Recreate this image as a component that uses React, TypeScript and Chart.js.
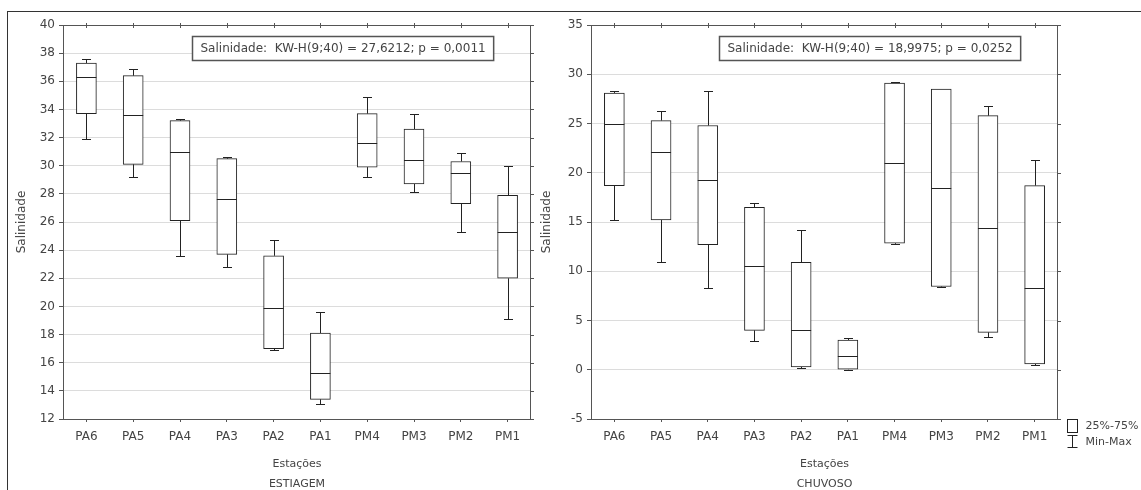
import { useEffect, useRef } from 'react';
import { Chart, registerables } from 'chart.js';

Chart.register(...registerables);

const stations = ['PA6', 'PA5', 'PA4', 'PA3', 'PA2', 'PA1', 'PM4', 'PM3', 'PM2', 'PM1'];

// ESTIAGEM (dry season)
const dryMin = [31.9, 29.2, 23.6, 22.8, 16.9, 13.1, 29.2, 28.1, 25.3, 19.1];
const dryQ1 = [33.7, 30.1, 26.1, 23.7, 17.0, 13.4, 29.9, 28.7, 27.3, 22.0];
const dryMedian = [36.3, 33.6, 31.0, 27.6, 19.9, 15.3, 31.6, 30.4, 29.5, 25.3];
const dryQ3 = [37.3, 36.4, 33.2, 30.5, 23.6, 18.1, 33.7, 32.6, 30.3, 27.9];
const dryMax = [37.6, 36.9, 33.3, 30.6, 24.7, 19.6, 34.9, 33.7, 30.9, 30.0];

// CHUVOSO (rainy season)
const wetMin = [15.2, 10.9, 8.3, 2.9, 0.2, 0.0, 12.8, 8.4, 3.3, 0.5];
const wetQ1 = [18.7, 15.2, 12.7, 4.0, 0.3, 0.0, 12.85, 8.45, 3.8, 0.6];
const wetMedian = [25.0, 22.1, 19.3, 10.5, 4.0, 1.4, 21.0, 18.5, 14.4, 8.3];
const wetQ3 = [28.1, 25.3, 24.8, 16.5, 10.9, 3.0, 29.1, 28.5, 25.8, 18.7];
const wetMax = [28.3, 26.3, 28.3, 16.9, 14.2, 3.25, 29.2, 28.55, 26.8, 21.3];

const dryAxis = [12, 40, 2];
const wetAxis = [-5, 35, 5];

const dryStat = 'Salinidade:  KW-H(9;40) = 27,6212; p = 0,0011';
const wetStat = 'Salinidade:  KW-H(9;40) = 18,9975; p = 0,0252';

const yTitle = 'Salinidade';
const xTitle = 'Estações';
const legendBox = '25%-75%';
const legendWhisker = 'Min-Max';

const FONT = "'DejaVu Sans', 'Liberation Sans', Arial, sans-serif";
const TEXT = '#444';
const LINE = '#222';

type Params = {
  mins: number[];
  q1s: number[];
  meds: number[];
  q3s: number[];
  maxs: number[];
  axis: number[];
  stat: string;
  season: string;
  padLeft: number;
  padRight: number;
  yWidth: number;
  legend: boolean;
};

function makeConfig(p: Params): any {
  const plugin = {
    id: 'boxExtras',
    beforeDatasetsDraw(chart: any) {
      const { ctx, scales } = chart;
      const x = scales.x;
      const y = scales.y;
      ctx.save();
      ctx.strokeStyle = LINE;
      ctx.lineWidth = 1;
      ctx.beginPath();
      for (let i = 0; i < stations.length; i++) {
        const cx = Math.round(x.getPixelForValue(i)) + 0.5;
        const yMax = Math.round(y.getPixelForValue(p.maxs[i])) + 0.5;
        const yMin = Math.round(y.getPixelForValue(p.mins[i])) + 0.5;
        const yQ1 = y.getPixelForValue(p.q1s[i]);
        const yQ3 = y.getPixelForValue(p.q3s[i]);
        ctx.moveTo(cx, yMax);
        ctx.lineTo(cx, yQ3);
        ctx.moveTo(cx, yQ1);
        ctx.lineTo(cx, yMin);
        ctx.moveTo(cx - 4.5, yMax);
        ctx.lineTo(cx + 4.5, yMax);
        ctx.moveTo(cx - 4.5, yMin);
        ctx.lineTo(cx + 4.5, yMin);
      }
      ctx.stroke();
      ctx.restore();
    },
    afterDatasetsDraw(chart: any) {
      const { ctx, chartArea: a, scales } = chart;
      const x = scales.x;
      const y = scales.y;
      ctx.save();
      ctx.strokeStyle = LINE;
      ctx.lineWidth = 1;
      // medians
      ctx.beginPath();
      for (let i = 0; i < stations.length; i++) {
        const cx = x.getPixelForValue(i);
        const ym = Math.round(y.getPixelForValue(p.meds[i])) + 0.5;
        ctx.moveTo(cx - 10, ym);
        ctx.lineTo(cx + 10, ym);
      }
      ctx.stroke();
      // frame
      ctx.strokeStyle = '#555';
      ctx.beginPath();
      ctx.moveTo(a.left, Math.round(a.top) + 0.5);
      ctx.lineTo(a.right, Math.round(a.top) + 0.5);
      ctx.moveTo(Math.round(a.right) - 0.5, a.top);
      ctx.lineTo(Math.round(a.right) - 0.5, a.bottom);
      // top ticks
      for (let i = 0; i < stations.length; i++) {
        const cx = Math.round(x.getPixelForValue(i)) + 0.5;
        ctx.moveTo(cx, a.top - 2);
        ctx.lineTo(cx, a.top + 3);
      }
      // right ticks
      y.ticks.forEach((t: any) => {
        const py = Math.round(y.getPixelForValue(t.value)) + 0.5;
        ctx.moveTo(a.right, py);
        ctx.lineTo(a.right + 3, py);
      });
      ctx.stroke();
      // stat box
      ctx.font = `12px ${FONT}`;
      const w = ctx.measureText(p.stat).width;
      const bw = w + 16;
      const bx = Math.round(a.right - 38 - bw) + 0.5;
      const by = 36.5;
      ctx.fillStyle = '#fff';
      ctx.fillRect(bx, by, bw, 24);
      ctx.strokeStyle = '#555';
      ctx.lineWidth = 1.5;
      ctx.strokeRect(bx, by, bw, 24);
      ctx.fillStyle = TEXT;
      ctx.textBaseline = 'middle';
      ctx.textAlign = 'left';
      ctx.fillText(p.stat, bx + 8, by + 12);
      // legend
      if (p.legend) {
        const lx = a.right + 9.5;
        ctx.lineWidth = 1;
        ctx.strokeStyle = LINE;
        ctx.strokeRect(lx, 419.5, 10, 13);
        ctx.beginPath();
        ctx.moveTo(lx, 435.5);
        ctx.lineTo(lx + 10, 435.5);
        ctx.moveTo(lx + 5, 435.5);
        ctx.lineTo(lx + 5, 447.5);
        ctx.moveTo(lx, 447.5);
        ctx.lineTo(lx + 10, 447.5);
        ctx.stroke();
        ctx.font = `11px ${FONT}`;
        ctx.fillStyle = TEXT;
        ctx.fillText(legendBox, lx + 18, 426);
        ctx.fillText(legendWhisker, lx + 18, 442);
      }
      ctx.restore();
    },
  };

  return {
    type: 'bar',
    data: {
      labels: stations,
      datasets: [
        {
          data: stations.map((_, i) => [p.q1s[i], p.q3s[i]]),
          backgroundColor: '#ffffff',
          borderColor: LINE,
          borderWidth: 1,
          borderSkipped: false,
          barThickness: 20,
        },
      ],
    },
    options: {
      responsive: false,
      maintainAspectRatio: false,
      animation: false,
      layout: { padding: { left: p.padLeft, right: p.padRight, top: 25, bottom: 0 } },
      plugins: { legend: { display: false }, tooltip: { enabled: false } },
      scales: {
        x: {
          grid: {
            display: true,
            drawOnChartArea: false,
            drawTicks: true,
            tickLength: 3,
            offset: false,
            color: '#555',
          },
          border: { display: true, color: '#555', width: 1 },
          ticks: { color: TEXT, font: { family: FONT, size: 12 }, padding: 8, maxRotation: 0, autoSkip: false },
          title: {
            display: true,
            text: [xTitle, p.season],
            color: TEXT,
            font: { family: FONT, size: 11, lineHeight: 1.8 },
            padding: 0,
          },
          afterFit: (s: any) => {
            s.height = 75;
          },
        },
        y: {
          min: p.axis[0],
          max: p.axis[1],
          ticks: { stepSize: p.axis[2], color: TEXT, font: { family: FONT, size: 12 }, padding: 4 },
          grid: { color: '#dcdcdc', tickLength: 4, tickColor: '#555' },
          border: { display: true, color: '#555', width: 1 },
          title: {
            display: true,
            text: yTitle,
            color: TEXT,
            font: { family: FONT, size: 12, lineHeight: 1.2 },
            padding: 0,
          },
          afterFit: (s: any) => {
            s.width = p.yWidth;
          },
        },
      },
    },
    plugins: [plugin],
  };
}

export default function App() {
  const leftRef = useRef<HTMLCanvasElement>(null);
  const rightRef = useRef<HTMLCanvasElement>(null);

  useEffect(() => {
    const left = new Chart(
      leftRef.current as HTMLCanvasElement,
      makeConfig({
        mins: dryMin,
        q1s: dryQ1,
        meds: dryMedian,
        q3s: dryQ3,
        maxs: dryMax,
        axis: dryAxis,
        stat: dryStat,
        season: 'ESTIAGEM',
        padLeft: 15,
        padRight: 9,
        yWidth: 48,
        legend: false,
      })
    );
    const right = new Chart(
      rightRef.current as HTMLCanvasElement,
      makeConfig({
        mins: wetMin,
        q1s: wetQ1,
        meds: wetMedian,
        q3s: wetQ3,
        maxs: wetMax,
        axis: wetAxis,
        stat: wetStat,
        season: 'CHUVOSO',
        padLeft: 0,
        padRight: 83,
        yWidth: 51,
        legend: true,
      })
    );
    return () => {
      left.destroy();
      right.destroy();
    };
  }, []);

  return (
    <div
      style={{
        position: 'absolute',
        left: 0,
        top: 0,
        width: 1141,
        height: 490,
        overflow: 'hidden',
        background: '#fff',
      }}
    >
      <div
        style={{
          position: 'absolute',
          left: 7,
          top: 11,
          width: 1141,
          height: 500,
          borderTop: '1px solid #333',
          borderLeft: '1px solid #333',
        }}
      />
      <canvas
        ref={leftRef}
        width={540}
        height={494}
        style={{ position: 'absolute', left: 0, top: 0, width: 540, height: 494 }}
      />
      <canvas
        ref={rightRef}
        width={601}
        height={494}
        style={{ position: 'absolute', left: 540, top: 0, width: 601, height: 494 }}
      />
    </div>
  );
}
